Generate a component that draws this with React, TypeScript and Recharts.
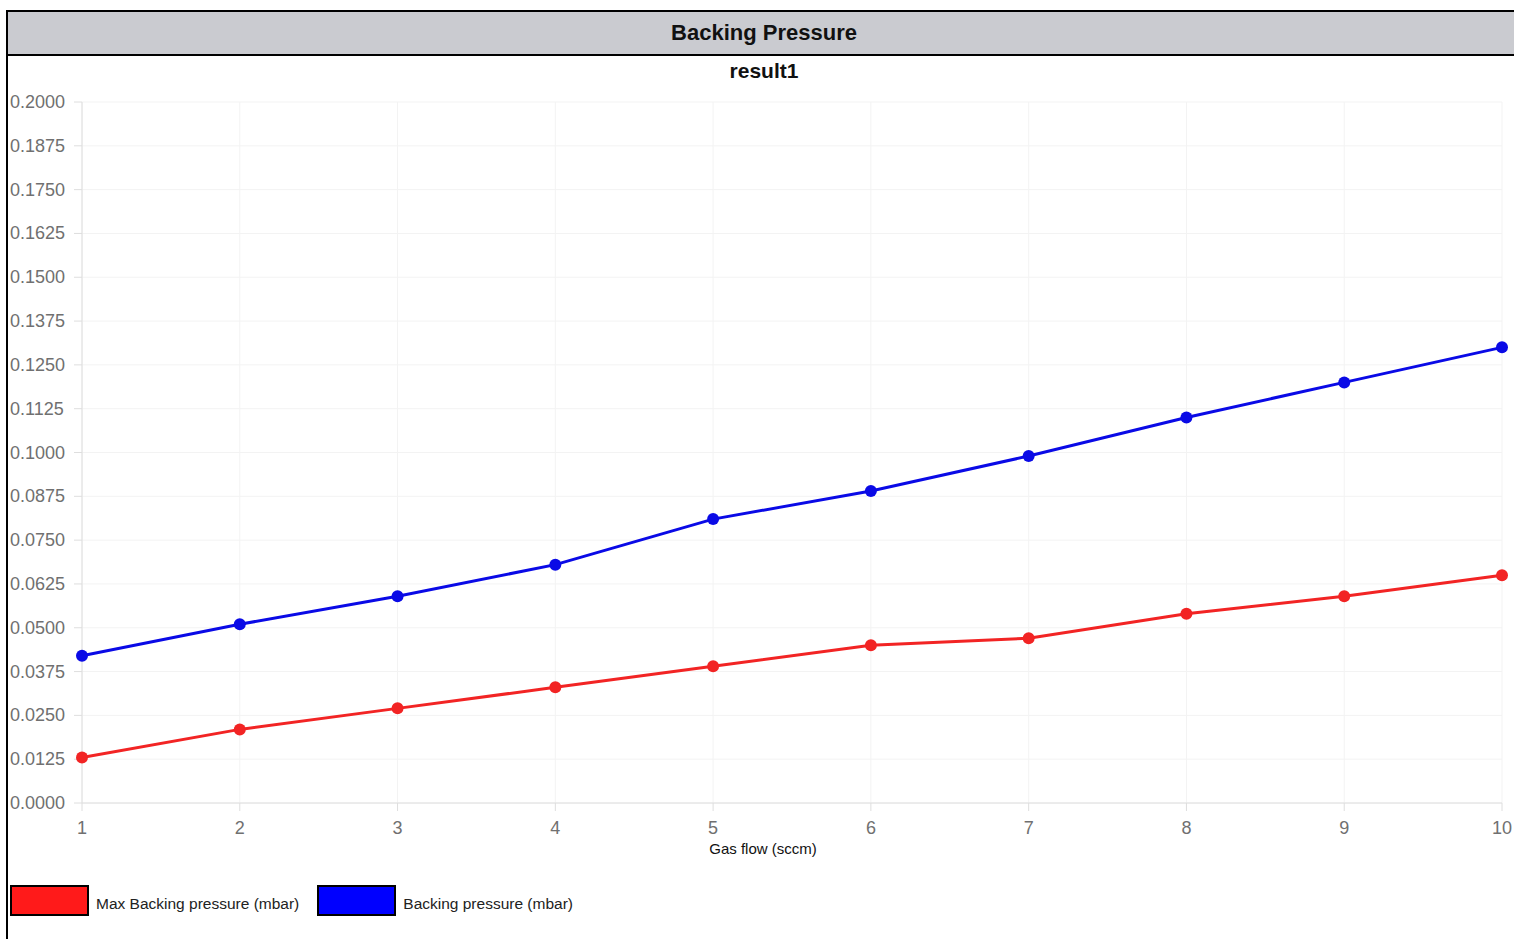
import React from 'react';
import { LineChart, Line, XAxis, YAxis, CartesianGrid } from 'recharts';

const gasFlow = [1, 2, 3, 4, 5, 6, 7, 8, 9, 10];
const maxBackingPressure = [0.013, 0.021, 0.027, 0.033, 0.039, 0.045, 0.047, 0.054, 0.059, 0.065];
const backingPressure = [0.042, 0.051, 0.059, 0.068, 0.081, 0.089, 0.099, 0.11, 0.12, 0.13];
const yTicks = [0, 0.0125, 0.025, 0.0375, 0.05, 0.0625, 0.075, 0.0875, 0.1, 0.1125, 0.125, 0.1375, 0.15, 0.1625, 0.175, 0.1875, 0.2];

const series = [
    { key: 'max', name: 'Max Backing pressure (mbar)', color: '#f22424', swatch: '#ff1a1a' },
    { key: 'backing', name: 'Backing pressure (mbar)', color: '#0a0ae6', swatch: '#0000ff' },
];

const data = gasFlow.map((x, i) => ({
    x,
    max: maxBackingPressure[i],
    backing: backingPressure[i],
}));

const font = '"Liberation Sans", Arial, sans-serif';

const YTick = (props: any) => {
    const { y, payload } = props;
    return (
        <text x={10} y={y} dy={6} textAnchor="start" fill="#707070" fontSize={18} fontFamily={font}>
            {Number(payload.value).toFixed(4)}
        </text>
    );
};

// axis title centred on the whole chart, not on the plot area
const XTitle = (props: any) => {
    const { viewBox } = props;
    return (
        <text x={763} y={viewBox.y + 51} textAnchor="middle" fill="#111" fontSize={15} fontFamily={font}>
            Gas flow (sccm)
        </text>
    );
};

const App = () => {
    return (
        <div style={{ position: 'relative', width: 1514, height: 939, overflow: 'hidden', fontFamily: font }}>
            <style>{'body{margin:0}'}</style>
            {/* outer frame */}
            <div style={{
                position: 'absolute', left: 6, top: 10, width: 1520, height: 940,
                borderLeft: '2px solid #000', borderTop: '2px solid #000', boxSizing: 'border-box',
            }} />
            <div style={{
                position: 'absolute', left: 8, top: 12, width: 1512, height: 42,
                background: '#cacbd0', borderBottom: '2px solid #000',
                display: 'flex', alignItems: 'center', justifyContent: 'center',
                fontSize: 22, fontWeight: 'bold', color: '#111',
            }}>
                <span>Backing Pressure</span>
            </div>
            <div style={{
                position: 'absolute', left: 8, top: 59, width: 1512, textAlign: 'center',
                fontSize: 21, fontWeight: 'bold', color: '#111',
            }}>
                <span>result1</span>
            </div>

            <div style={{ position: 'absolute', left: 0, top: 60 }}>
                <LineChart width={1514} height={800} data={data} margin={{ top: 42, right: 12, bottom: 0, left: 0 }}>
                    <CartesianGrid stroke="#f3f3f3" strokeWidth={1} />
                    <XAxis
                        dataKey="x"
                        type="number"
                        domain={[1, 10]}
                        ticks={gasFlow}
                        height={57}
                        stroke="#dedede"
                        tickSize={8}
                        tickMargin={10}
                        tick={{ fill: '#707070', fontSize: 18, fontFamily: font }}
                        label={<XTitle />}
                    />
                    <YAxis
                        type="number"
                        domain={[0, 0.2]}
                        ticks={yTicks}
                        width={82}
                        stroke="#dedede"
                        tickSize={8}
                        tick={<YTick />}
                        interval={0}
                    />
                    {series.map((s) => (
                        <Line
                            key={s.key}
                            dataKey={s.key}
                            name={s.name}
                            type="linear"
                            stroke={s.color}
                            strokeWidth={3}
                            dot={{ r: 6, fill: s.color, stroke: 'none' }}
                            activeDot={false}
                            isAnimationActive={false}
                        />
                    ))}
                </LineChart>
            </div>

            {/* legend */}
            <div style={{ position: 'absolute', left: 10, top: 885, display: 'flex', alignItems: 'center' }}>
                {series.map((s) => (
                    <div key={s.key} style={{ display: 'flex', alignItems: 'center', marginRight: 18 }}>
                        <div style={{ width: 79, height: 31, background: s.swatch, border: '2px solid #000', boxSizing: 'border-box' }} />
                        <span style={{ marginLeft: 7, paddingTop: 7, fontSize: 15.5, color: '#222' }}>{s.name}</span>
                    </div>
                ))}
            </div>
        </div>
    );
};

export default App;
